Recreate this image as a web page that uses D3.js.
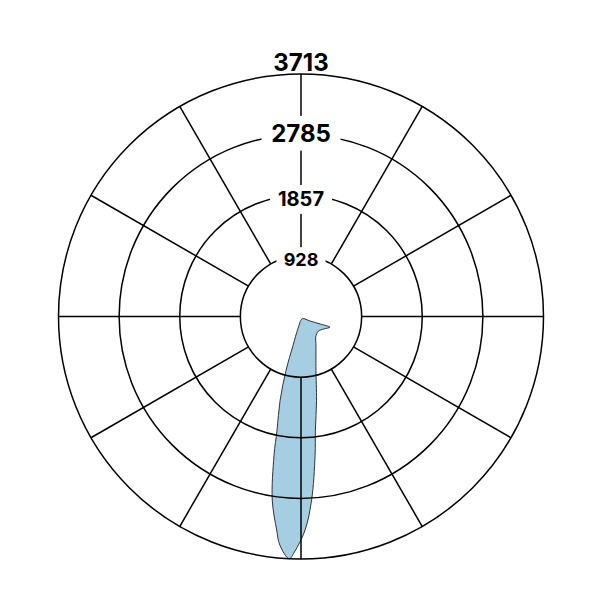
<!DOCTYPE html>
<html>
<head>
<meta charset="utf-8">
<script src="https://cdn.jsdelivr.net/npm/d3@7"></script>
<style>
  body { margin: 0; background: #fff; }
  text { font-family: Inter, 'Liberation Sans', sans-serif; font-weight: 700; }
</style>
</head>
<body>
<script>
// radial axis
var maxValue = 3713
var ringLabels = ['928', '1857', '2785', '3713']
var spokeAngles = [0, 30, 60, 90, 120, 150, 180, 210, 240, 270, 300, 330]

// outline of the distribution, angle in degrees (clockwise from top) and value
var outlineAngles = [150, 116.6, 111.5, 110.2, 118.5, 130.4, 144.6, 151, 160, 164.5, 169.5, 172.8, 174.2, 176.7, 178.9, 181.6, 182.8, 185.3, 186.5, 188.9, 191, 191.9, 194, 195.5, 195.4, 194]
var outlineValues = [40, 153, 312, 472, 400, 347, 388, 472, 668, 856, 1305, 1756, 2135, 2816, 3269, 3607, 3713, 3513, 3290, 2845, 2164, 1780, 1323, 856, 458, 189]

// label look
var labelSizes = [18, 20, 24, 24]
var labelShift = [4, 4, -1.5, -3.5]

var wdt = 601, hgt = 601
var svg = d3.select(document.body).append('svg')
  .attr('width', wdt)
  .attr('height', hgt)

var g = svg.append('g').attr('transform', 'translate(301,316.5)')

var r = d3.scaleLinear().domain([0, maxValue]).range([0, 242.5])
var rad = d3.scaleLinear().domain([0, 360]).range([0, 2 * Math.PI])
var ringValues = ringLabels.map(function(d, i) { return maxValue * (i + 1) / ringLabels.length })

var shape = d3.lineRadial()
  .angle(function(d) { return rad(d[0]) })
  .radius(function(d) { return r(d[1]) })
  .curve(d3.curveCatmullRomClosed)

g.append('path')
  .datum(d3.zip(outlineAngles, outlineValues))
  .attr('d', shape)
  .attr('fill', '#a6cee3')
  .attr('stroke', '#333')
  .attr('stroke-width', 1)

g.selectAll('circle').data(ringValues).enter().append('circle')
  .attr('r', function(d) { return r(d) })
  .attr('fill', 'none')
  .attr('stroke', '#000')
  .attr('stroke-width', 1.5)

g.selectAll('line').data(spokeAngles).enter().append('line')
  .attr('x1', function(d) { return r(ringValues[0]) * Math.sin(rad(d)) })
  .attr('y1', function(d) { return -r(ringValues[0]) * Math.cos(rad(d)) })
  .attr('x2', function(d) { return r(maxValue) * Math.sin(rad(d)) })
  .attr('y2', function(d) { return -r(maxValue) * Math.cos(rad(d)) })
  .attr('stroke', '#000')
  .attr('stroke-width', 1.5)

// labels, inner ones sit on the ring with a white box, the last one above the ring
var labels = g.selectAll('g.lbl').data(ringLabels).enter().append('g').attr('class', 'lbl')

labels.each(function(d, i) {
  var el = d3.select(this)
  var last = i == ringLabels.length - 1
  var s = labelSizes[i]
  var t = el.append('text')
    .attr('text-anchor', 'middle')
    .attr('font-size', s)
    .attr('y', last ? -r(ringValues[i]) + labelShift[i] : -r(ringValues[i]) + s * 0.36 + labelShift[i])
    .attr('fill', '#000')
    .text(d)
  if (!last) {
    var b = t.node().getBBox()
    var px = s * 0.4, py = s * 0.12
    el.insert('rect', 'text')
      .attr('x', b.x - px)
      .attr('y', b.y - py)
      .attr('width', b.width + 2 * px)
      .attr('height', b.height + 2 * py)
      .attr('fill', '#fff')
  }
})
</script>
</body>
</html>
